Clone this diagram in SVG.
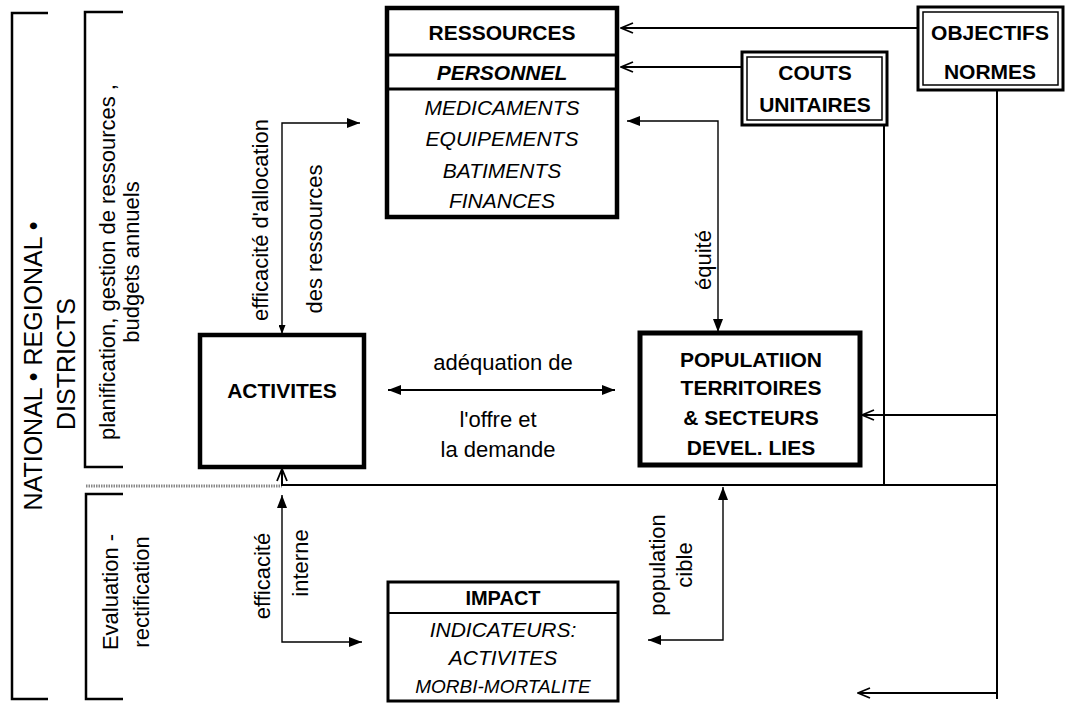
<svg xmlns="http://www.w3.org/2000/svg" width="1065" height="703" viewBox="0 0 1065 703">
<style>
text{font-family:"Liberation Sans",Arial,Helvetica,sans-serif;fill:#000}
.r{font-size:22px;text-anchor:middle}
.big{font-size:25px;text-anchor:middle}
.b{font-size:21px;font-weight:bold;text-anchor:middle}
.i{font-size:21px;font-style:italic;text-anchor:middle}
.bi{font-size:21px;font-weight:bold;font-style:italic;text-anchor:middle}
.box{fill:#fff;stroke:#000}
.ln{fill:none;stroke:#000;stroke-width:2}
.th{fill:none;stroke:#000;stroke-width:1.4}
</style>
<defs>
<marker id="fa" viewBox="0 0 13 10" refX="13" refY="5" markerWidth="13" markerHeight="10" markerUnits="userSpaceOnUse" orient="auto-start-reverse"><path d="M0,0 L13,5 L0,10 z" fill="#000"/></marker>
<marker id="fs" viewBox="0 0 9 7" refX="9" refY="3.5" markerWidth="9" markerHeight="7" markerUnits="userSpaceOnUse" orient="auto-start-reverse"><path d="M0,0 L9,3.5 L0,7 z" fill="#000"/></marker>
<marker id="oa" viewBox="0 0 14 12" refX="13" refY="6" markerWidth="14" markerHeight="12" markerUnits="userSpaceOnUse" orient="auto"><path d="M1,1 L13,6 L1,11" fill="none" stroke="#000" stroke-width="1.8"/></marker>
</defs>

<g id="brackets" fill="none" stroke="#000" stroke-width="2.5">
<path d="M48,13 L12,13 L12,699 L48,699"/>
<path d="M123,12 L85,12 L85,467 L123,467"/>
<path d="M123,494 L86,494 L86,699 L123,699"/>
</g>

<g id="side-labels">
<text class="big" transform="translate(42,366) rotate(-90)">NATIONAL • REGIONAL •</text>
<text class="big" transform="translate(75,364) rotate(-90)">DISTRICTS</text>
<text class="r" transform="translate(115,262) rotate(-90)">planification, gestion de ressources ,</text>
<text class="r" transform="translate(139,262) rotate(-90)">budgets annuels</text>
<text class="r" transform="translate(118,592) rotate(-90)">Evaluation -</text>
<text class="r" transform="translate(149,592) rotate(-90)">rectification</text>
</g>

<g id="connectors">
<line x1="86" y1="486" x2="282" y2="486" stroke="#888" stroke-width="3" stroke-dasharray="1.5,1"/>
<path class="ln" d="M918,28 L621,28" marker-end="url(#oa)"/>
<path class="ln" d="M742,67 L621,67" marker-end="url(#oa)"/>
<path class="ln" d="M884,125 L884,485"/>
<path class="ln" d="M997,90 L997,699"/>
<path class="ln" d="M281,485 L997,485" stroke-width="2.5"/>
<path class="ln" d="M997,415 L862,415" marker-end="url(#oa)"/>
<path class="ln" d="M997,693 L858,693" marker-end="url(#oa)"/>
<path class="ln" d="M282,485 L282,469" marker-end="url(#oa)"/>
<path class="th" d="M282,495 L282,642 L362,642" marker-start="url(#fa)" marker-end="url(#fa)"/>
<path class="th" d="M282,334 L282,123 L360,123" marker-start="url(#fs)" marker-end="url(#fa)"/>
<path class="th" d="M627,121 L718,121 L718,332" marker-start="url(#fa)" marker-end="url(#fa)"/>
<path class="ln" d="M388,390 L615,390" marker-start="url(#fa)" marker-end="url(#fa)"/>
<path class="th" d="M723,487 L723,640 L648,640" marker-start="url(#fa)" marker-end="url(#fa)"/>
</g>

<g id="connector-labels">
<text class="r" transform="translate(268,220) rotate(-90)">efficacité d'allocation</text>
<text class="r" transform="translate(322,239) rotate(-90)">des ressources</text>
<text class="r" transform="translate(711,260) rotate(-90)">équité</text>
<text class="r" x="503" y="370">adéquation de</text>
<text class="r" x="498" y="427">l'offre et</text>
<text class="r" x="498" y="457">la demande</text>
<text class="r" transform="translate(270,576) rotate(-90)">efficacité</text>
<text class="r" transform="translate(308,563) rotate(-90)">interne</text>
<text class="r" transform="translate(665,565) rotate(-90)">population</text>
<text class="r" transform="translate(692,565) rotate(-90)">cible</text>
</g>

<g id="ressources">
<rect class="box" x="387" y="8" width="230" height="209" stroke-width="4.5"/>
<line x1="387" y1="55" x2="617" y2="55" stroke="#000" stroke-width="3"/>
<line x1="387" y1="89" x2="617" y2="89" stroke="#000" stroke-width="3"/>
<text class="b" x="502" y="40">RESSOURCES</text>
<text class="bi" x="502" y="80">PERSONNEL</text>
<text class="i" x="502" y="115">MEDICAMENTS</text>
<text class="i" x="502" y="146">EQUIPEMENTS</text>
<text class="i" x="502" y="178">BATIMENTS</text>
<text class="i" x="502" y="208">FINANCES</text>
</g>

<g id="couts">
<rect class="box" x="742" y="52" width="145" height="73" stroke-width="3"/>
<rect x="747" y="57" width="135" height="63" fill="none" stroke="#000" stroke-width="1.5"/>
<text class="b" x="815" y="80">COUTS</text>
<text class="b" x="815" y="112">UNITAIRES</text>
</g>

<g id="objectifs">
<rect class="box" x="918" y="7" width="145" height="83" stroke-width="3"/>
<rect x="923" y="12" width="135" height="73" fill="none" stroke="#000" stroke-width="1.5"/>
<text class="b" x="990" y="40">OBJECTIFS</text>
<text class="b" x="990" y="79">NORMES</text>
</g>

<g id="activites">
<rect class="box" x="200" y="335" width="164" height="132" stroke-width="4.5"/>
<text class="b" x="282" y="398">ACTIVITES</text>
</g>

<g id="population">
<rect class="box" x="640" y="333" width="220" height="132" stroke-width="5"/>
<text class="b" x="751" y="367">POPULATIION</text>
<text class="b" x="751" y="395">TERRITOIRES</text>
<text class="b" x="751" y="425">&amp; SECTEURS</text>
<text class="b" x="751" y="455">DEVEL. LIES</text>
</g>

<g id="impact">
<rect class="box" x="388" y="582" width="230" height="119" stroke-width="3"/>
<line x1="388" y1="613" x2="618" y2="613" stroke="#000" stroke-width="2"/>
<text class="b" x="503" y="605" style="font-size:20px">IMPACT</text>
<text class="i" x="503" y="637">INDICATEURS:</text>
<text class="i" x="503" y="665">ACTIVITES</text>
<text class="i" x="503" y="693" style="font-size:19px">MORBI-MORTALITE</text>
</g>
</svg>
